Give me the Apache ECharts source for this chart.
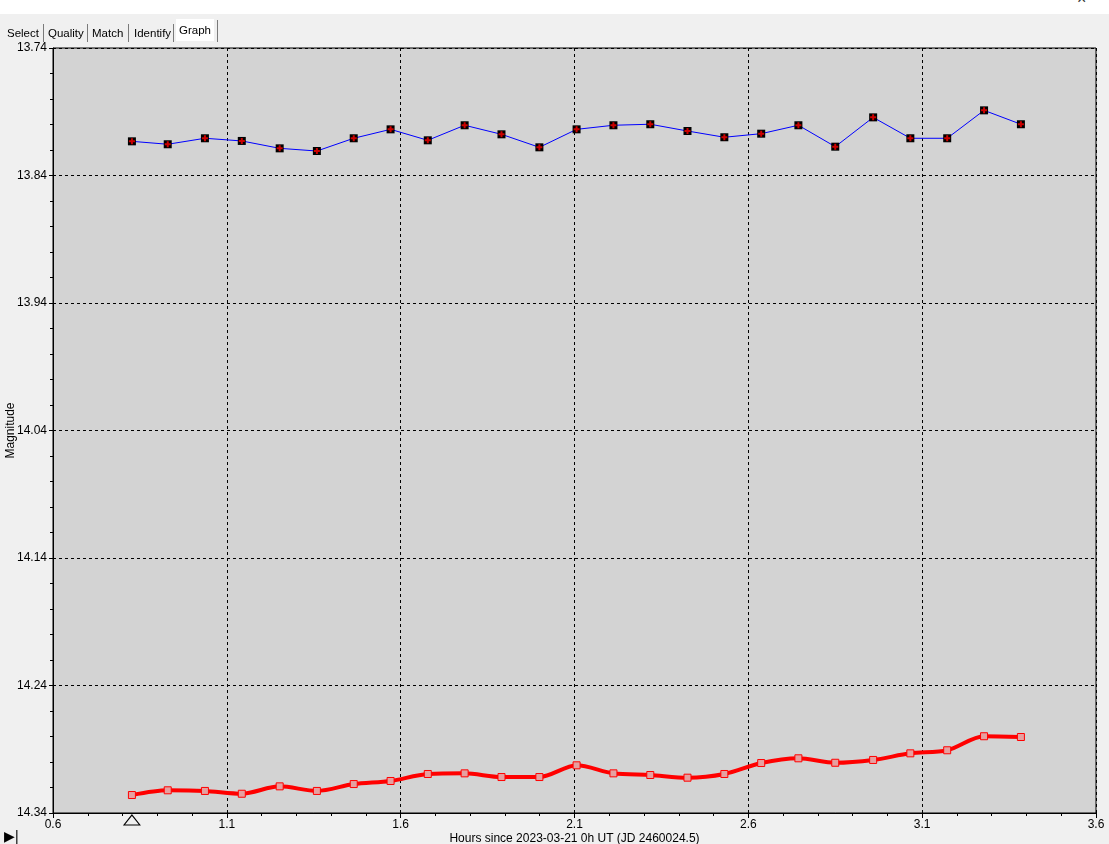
<!DOCTYPE html>
<html>
<head>
<meta charset="utf-8">
<script src="https://cdn.jsdelivr.net/npm/echarts@6/dist/echarts.min.js"></script>
<style>
  html, body { margin: 0; padding: 0; width: 1109px; height: 844px; overflow: hidden; background: #f0f0f0; font-family: "Liberation Sans", Arial, sans-serif; }
  #topstrip { position: absolute; left: 0; top: 0; width: 1109px; height: 14px; background: #ffffff; }
  #tabs { position: absolute; left: 0; top: 14px; width: 1109px; height: 30px; }
  .tab { position: absolute; top: 9px; height: 20px; font-size: 11.5px; line-height: 20px; color: #000; padding: 0 3px; }
  .sep { position: absolute; top: 10px; width: 1px; height: 18px; background: #7a7a7a; }
  .tab.sel { top: 5px; height: 22px; background: #ffffff; line-height: 22px; }
  #chart { position: absolute; left: 0; top: 0; width: 1109px; height: 844px; }
  #corner { position: absolute; left: 4px; top: 828px; font-size: 14px; color: #000; }
  #winx { position: absolute; left: 1077px; top: -10px; font-size: 16px; color: #333; }
</style>
</head>
<body>
<div id="topstrip"></div>
<div id="winx">×</div>
<div id="chart"></div>
<div id="tabs">
  <div class="tab" style="left:4px">Select</div>
  <div class="sep" style="left:43px"></div>
  <div class="tab" style="left:45px">Quality</div>
  <div class="sep" style="left:87px"></div>
  <div class="tab" style="left:89px">Match</div>
  <div class="sep" style="left:128px"></div>
  <div class="tab" style="left:131px">Identify</div>
  <div class="sep" style="left:173px"></div>
  <div class="tab sel" style="left:176px">Graph</div>
  <div class="sep" style="left:217px; top:6px; height:22px"></div>
</div>
<div id="corner">&#9654;|</div>
<script>
// Hours since 2023-03-21 0h UT
const hours = [0.827, 0.930, 1.037, 1.143, 1.252, 1.359, 1.465, 1.571, 1.678, 1.784,
               1.890, 1.999, 2.106, 2.212, 2.318, 2.425, 2.531, 2.637, 2.744, 2.850,
               2.959, 3.066, 3.172, 3.278, 3.384];
// Upper (comparison) series magnitudes
const magTop = [13.8132, 13.8155, 13.8108, 13.8129, 13.8187, 13.8208, 13.8108, 13.8038, 13.8124, 13.8006,
                13.8077, 13.8179, 13.8038, 13.8006, 13.7998, 13.8051, 13.8100, 13.8072, 13.8006, 13.8174,
                13.7944, 13.8108, 13.8108, 13.7889, 13.7998];
// Lower (target) series magnitudes
const magBottom = [14.3259, 14.3222, 14.3227, 14.3249, 14.3191, 14.3227, 14.3173, 14.3149, 14.3094, 14.3089,
                   14.3118, 14.3118, 14.3026, 14.3089, 14.3102, 14.3123, 14.3094, 14.3008, 14.2971, 14.3006,
                   14.2984, 14.2932, 14.2908, 14.2798, 14.2804];
// Axis ranges / tick steps
const xAxisMin = 0.6, xAxisMax = 3.6, xAxisStep = 0.5;
const yAxisMin = 13.74, yAxisMax = 14.34, yAxisStep = 0.1;
const xAxisTitle = 'Hours since 2023-03-21 0h UT (JD 2460024.5)';
const yAxisTitle = 'Magnitude';

const topData = hours.map((h, i) => [h, magTop[i]]);
const bottomData = hours.map((h, i) => [h, magBottom[i]]);

const chart = echarts.init(document.getElementById('chart'), null, { renderer: 'canvas' });
const font = '"Liberation Sans", Arial, sans-serif';
chart.setOption({
  animation: false,
  backgroundColor: 'transparent',
  grid: { left: 53, right: 13, top: 48, bottom: 31, containLabel: false, outerBoundsMode: 'none',
          show: true, backgroundColor: '#d3d3d3', borderColor: '#000', borderWidth: 1 },
  xAxis: {
    type: 'value', min: xAxisMin, max: xAxisMax, interval: xAxisStep,
    name: xAxisTitle, nameLocation: 'middle', nameGap: 20, nameMoveOverlap: false,
    nameTextStyle: { color: '#000', fontSize: 12, fontFamily: font },
    axisLine: { show: true, onZero: false, lineStyle: { color: '#000', width: 1 } },
    axisTick: { show: true, length: 5, lineStyle: { color: '#000' } },
    minorTick: { show: true, splitNumber: 5, length: 3, lineStyle: { color: '#000' } },
    axisLabel: { color: '#000', fontSize: 12, fontFamily: font, margin: 6, formatter: v => v.toFixed(1) },
    splitLine: { show: true, lineStyle: { color: '#000', type: [3, 3], width: 1 } }
  },
  yAxis: {
    type: 'value', inverse: true, min: yAxisMin, max: yAxisMax, interval: yAxisStep,
    name: yAxisTitle, nameLocation: 'middle', nameGap: 36, nameRotate: 90, nameMoveOverlap: false,
    nameTextStyle: { color: '#000', fontSize: 12, fontFamily: font },
    axisLine: { show: true, onZero: false, lineStyle: { color: '#000', width: 1 } },
    axisTick: { show: true, length: 4, lineStyle: { color: '#000' } },
    minorTick: { show: true, splitNumber: 5, length: 3, lineStyle: { color: '#000' } },
    axisLabel: { color: '#000', fontSize: 12, fontFamily: font, margin: 6, formatter: v => v.toFixed(2) },
    splitLine: { show: true, lineStyle: { color: '#000', type: [3, 3], width: 1 } }
  },
  series: [
    {
      type: 'line', data: topData, symbol: 'rect', symbolSize: 8,
      lineStyle: { color: '#0000ff', width: 1 },
      itemStyle: { color: '#000' }, z: 3
    },
    {
      type: 'scatter', data: topData, symbol: 'path://M2,0H4V6H2Z M0,2H6V4H0Z', symbolSize: 6,
      itemStyle: { color: '#ff0000' }, z: 4
    },
    {
      type: 'line', data: bottomData, smooth: 0.3, symbol: 'rect', symbolSize: 7,
      lineStyle: { color: '#ff0000', width: 4 },
      itemStyle: { color: '#e6a0a0', borderColor: '#ff0000', borderWidth: 1 }, z: 3,
      markPoint: {
        symbol: 'triangle', symbolSize: [16, 10], symbolOffset: [0, 7],
        itemStyle: { color: '#f0f0f0', borderColor: '#000', borderWidth: 1 },
        label: { show: false },
        data: [{ coord: [hours[0], yAxisMax] }]
      }
    }
  ]
});
</script>
</body>
</html>
